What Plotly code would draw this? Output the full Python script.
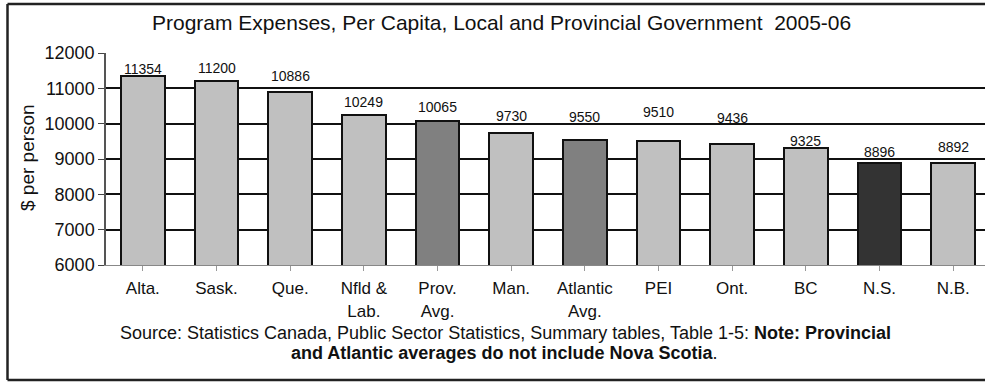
import plotly.graph_objects as go

# Per-capita program expenses, 2005-06
categories = ["Alta.", "Sask.", "Que.", "Nfld &<br>Lab.", "Prov.<br>Avg.", "Man.",
              "Atlantic<br>Avg.", "PEI", "Ont.", "BC", "N.S.", "N.B."]
values = [11354, 11200, 10886, 10249, 10065, 9730, 9550, 9510, 9436, 9325, 8896, 8892]
y_ticks = [6000, 7000, 8000, 9000, 10000, 11000, 12000]

# bar fill per category: provinces light, averages mid, Nova Scotia dark
bar_colors = ["#c0c0c0", "#c0c0c0", "#c0c0c0", "#c0c0c0", "#808080", "#c0c0c0",
              "#808080", "#c0c0c0", "#c0c0c0", "#c0c0c0", "#333333", "#c0c0c0"]
# vertical offsets (px) of the value labels above each bar
label_shift = [6, 12, 15, 12, 13, 16, 22, 28, 25, 6, 10, 15]

W, H = 985, 383
L, T, B = 106, 53, 118
PLOT_W = W - L
PLOT_H = H - T - B


def px(x):
    return (x - L) / PLOT_W


def py(y):
    return (H - B - y) / PLOT_H


font = "Liberation Sans, Arial, sans-serif"
idx = list(range(len(categories)))

fig = go.Figure(go.Bar(
    x=idx, y=values, base=0, width=0.59,
    marker=dict(color=bar_colors, line=dict(color="#111111", width=2)),
    hoverinfo="skip",
))

annotations = []
for i, v in enumerate(values):
    annotations.append(dict(
        x=i, y=v, xref="x", yref="y", text=str(v), showarrow=False,
        yanchor="middle", yshift=label_shift[i] + 1,
        font=dict(family=font, size=14, color="#111111"),
    ))

annotations.append(dict(
    x=px(501), y=py(22), xref="paper", yref="paper", showarrow=False,
    text="Program Expenses, Per Capita, Local and Provincial Government  2005-06",
    font=dict(family=font, size=21, color="#111111"), xanchor="center", yanchor="middle",
))
annotations.append(dict(
    x=px(27), y=py(158), xref="paper", yref="paper", showarrow=False,
    text="$ per person", textangle=-90,
    font=dict(family=font, size=19, color="#111111"), xanchor="center", yanchor="middle",
))
annotations.append(dict(
    x=px(505), y=py(333), xref="paper", yref="paper", showarrow=False,
    text=("Source: Statistics Canada, Public Sector Statistics, Summary tables, Table 1-5: "
          "<b>Note: Provincial</b>"),
    font=dict(family=font, size=18, color="#111111"), xanchor="center", yanchor="middle",
))
annotations.append(dict(
    x=px(504), y=py(353), xref="paper", yref="paper", showarrow=False,
    text="<b>and Atlantic averages do not include Nova Scotia</b>.",
    font=dict(family=font, size=18, color="#111111"), xanchor="center", yanchor="middle",
))

# outer frame
frame = dict(color="#222222", width=2.5)
shapes = [
    dict(type="line", xref="paper", yref="paper", x0=px(7.5), x1=px(7.5), y0=py(4), y1=py(380), line=frame),
    dict(type="line", xref="paper", yref="paper", x0=px(7.5), x1=px(990), y0=py(4), y1=py(4), line=frame),
    dict(type="line", xref="paper", yref="paper", x0=px(7.5), x1=px(990), y0=py(380), y1=py(380), line=frame),
]

fig.update_layout(
    width=W, height=H, autosize=False,
    margin=dict(l=L, r=0, t=T, b=B, pad=0),
    paper_bgcolor="white", plot_bgcolor="white",
    showlegend=False, bargap=0,
    annotations=annotations, shapes=shapes,
    font=dict(family=font, color="#111111"),
)

fig.update_xaxes(
    range=[-0.5, 11.5 - 5 / 73.7],
    tickmode="array", tickvals=idx, ticktext=categories,
    tickfont=dict(family=font, size=17, color="#111111"),
    ticks="outside", tickson="boundaries", ticklen=5, tickcolor="#999999", tickwidth=1,
    ticklabelstandoff=3,
    showline=True, linecolor="#888888", linewidth=1,
    showgrid=False, zeroline=False,
)
fig.update_yaxes(
    range=[6000, 12000],
    tickmode="array", tickvals=y_ticks, ticktext=[str(t) for t in y_ticks],
    tickfont=dict(family=font, size=18, color="#111111"),
    ticks="outside", ticklen=6, tickcolor="#444444", tickwidth=1,
    showline=True, linecolor="#555555", linewidth=1.5,
    showgrid=True, gridcolor="#111111", gridwidth=2,
    zeroline=False,
)

fig.write_html("out.html")
